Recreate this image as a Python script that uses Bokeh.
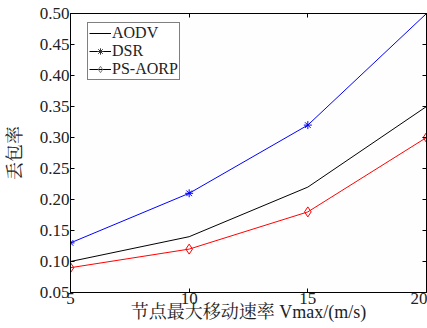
from bokeh.plotting import figure
from bokeh.models import (Range1d, LinearAxis, FixedTicker, Legend, LegendItem,
                          ColumnDataSource, NumeralTickFormatter)
from bokeh.embed import file_html
from bokeh.resources import INLINE

speed = [5, 10, 15, 20]
aodv = [0.10, 0.14, 0.22, 0.35]
dsr = [0.13, 0.21, 0.32, 0.50]
ps_aorp = [0.09, 0.12, 0.18, 0.30]
series_names = ["AODV", "DSR", "PS-AORP"]
y_ticks = [0.05, 0.10, 0.15, 0.20, 0.25, 0.30, 0.35, 0.40, 0.45, 0.50]

SERIF = "'Liberation Serif', 'Noto Serif CJK SC', 'Noto Sans CJK SC', serif"

p = figure(width=427, height=328, output_backend="svg", toolbar_location=None,
           x_range=Range1d(5, 20), y_range=Range1d(0.05, 0.50),
           min_border_left=70, min_border_right=1, min_border_top=13,
           min_border_bottom=36)
p.background_fill_color = "#fefefe"
p.border_fill_color = "white"
p.outline_line_color = "black"
p.outline_line_width = 1
p.grid.visible = False

def style_axis(ax):
    ax.major_tick_in = 4
    ax.major_tick_out = 0
    ax.minor_tick_in = 0
    ax.minor_tick_out = 0
    ax.axis_line_color = "black"
    ax.major_tick_line_color = "black"
    ax.major_label_text_font = SERIF
    ax.major_label_text_font_size = "17px"
    ax.major_label_text_color = "#222222"
    ax.major_label_standoff = 0

p.xaxis.ticker = FixedTicker(ticks=speed)
p.yaxis.ticker = FixedTicker(ticks=y_ticks)
p.yaxis.formatter = NumeralTickFormatter(format="0.00")
style_axis(p.xaxis[0])
style_axis(p.yaxis[0])
p.yaxis.major_label_standoff = 1
p.xaxis.axis_label = "节点最大移动速率 Vmax/(m/s)"
p.yaxis.axis_label = "丢包率"
for ax in (p.xaxis[0], p.yaxis[0]):
    ax.axis_label_text_font = SERIF
    ax.axis_label_text_font_style = "normal"
    ax.axis_label_text_font_size = "18px"
    ax.axis_label_text_color = "#222222"
p.xaxis.axis_label_standoff = -5
p.yaxis.axis_label_standoff = 12

top_ax = LinearAxis(ticker=FixedTicker(ticks=speed),
                    major_label_overrides={t: "" for t in speed})
right_ax = LinearAxis(ticker=FixedTicker(ticks=y_ticks),
                      major_label_overrides={t: "" for t in y_ticks})
style_axis(top_ax)
style_axis(right_ax)
p.add_layout(top_ax, "above")
p.add_layout(right_ax, "right")

src = ColumnDataSource(dict(x=speed, aodv=aodv, dsr=dsr, ps=ps_aorp))
p.line("x", "aodv", source=src, line_color="black", line_width=1)
p.line("x", "dsr", source=src, line_color="#0000ff", line_width=1)
p.scatter("x", "dsr", source=src, marker="asterisk", size=8, line_color="#0000ff")
p.line("x", "ps", source=src, line_color="#ff0000", line_width=1)
p.scatter("x", "ps", source=src, marker="diamond", size=10, line_color="#ff0000",
          fill_color=None)

# legend proxies (black), drawn nowhere in the plot
nan = float("nan")
proxy = ColumnDataSource(dict(x=[nan], y=[nan]))
l1 = p.line("x", "y", source=proxy, line_color="black")
l2 = p.line("x", "y", source=proxy, line_color="black")
m2 = p.scatter("x", "y", source=proxy, marker="asterisk", size=7, line_color="#333333")
l3 = p.line("x", "y", source=proxy, line_color="black")
m3 = p.scatter("x", "y", source=proxy, marker="diamond", size=9, line_color="#777777",
               fill_color=None)

legend = Legend(items=[LegendItem(label=series_names[0], renderers=[l1], index=0),
                       LegendItem(label=series_names[1], renderers=[l2, m2], index=0),
                       LegendItem(label=series_names[2], renderers=[l3, m3], index=0)],
                location=(17, 212))
legend.label_text_font = SERIF
legend.label_text_font_size = "16px"
legend.label_text_color = "#222222"
legend.glyph_width = 22
legend.glyph_height = 16
legend.label_height = 16
legend.label_standoff = 1
legend.spacing = 0
legend.padding = 1
legend.margin = 0
legend.border_line_color = "black"
legend.border_line_width = 1
legend.background_fill_color = "white"
legend.background_fill_alpha = 1
p.add_layout(legend, "center")

open("out.html", "w").write(file_html(p, INLINE))
